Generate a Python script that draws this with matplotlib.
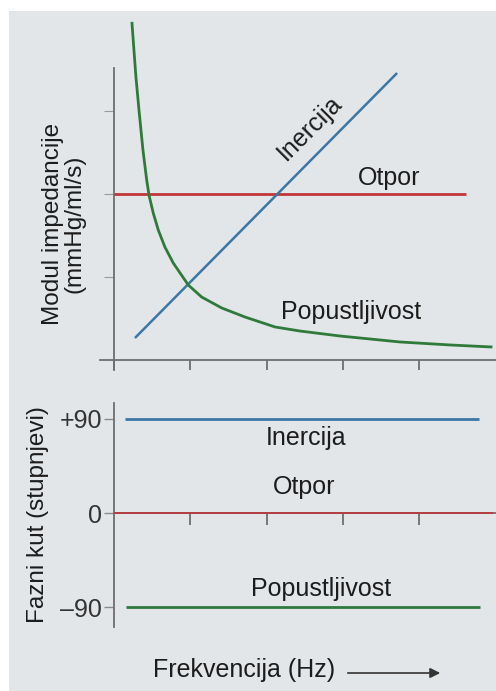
import matplotlib
matplotlib.use("Agg")
import matplotlib.pyplot as plt
from matplotlib.patches import Rectangle, FancyArrowPatch

# Top panel: impedance modulus vs frequency
freq_ticks = [0, 1, 2, 3, 4]
mod_ticks = [1, 2, 3]

otpor_x = [0, 4.61]
otpor_y = [2, 2]

inercija_x = [0.275, 3.71]
inercija_y = [0.265, 3.46]

popust_x = [0.236, 0.262, 0.288, 0.328, 0.380, 0.429, 0.459, 0.515, 0.581, 0.668,
            0.777, 0.974, 1.149, 1.412, 1.717, 2.110, 2.438, 2.962, 3.748, 4.404, 4.941]
popust_y = [4.060, 3.735, 3.410, 3.012, 2.530, 2.169, 1.988, 1.771, 1.566, 1.361,
            1.169, 0.904, 0.759, 0.627, 0.518, 0.398, 0.349, 0.289, 0.217, 0.181, 0.157]

# Bottom panel: phase angle
phase_ticks = [90, 0, -90]
phase_labels = ["+90", "0", "\u201390"]
phase_xticks = [1, 2, 3, 4]
faza_inercija_x = [0.144, 4.78]
faza_inercija_y = [90, 90]
faza_otpor_x = [0, 4.97]
faza_otpor_y = [0, 0]
faza_popust_x = [0.157, 4.80]
faza_popust_y = [-90, -90]

RED = "#c2353a"
BLUE = "#3b77a5"
GREEN = "#2f7a3b"
AXC = "#6e6e6e"
BG = "#e3e6e9"
TXT = "#1c1c1c"

plt.rcParams['font.family'] = ['Liberation Sans', 'DejaVu Sans']

fig = plt.figure(figsize=(4.96, 6.91), dpi=100, facecolor="white")
fig.patches.append(Rectangle((9 / 496, 0), 1, 1 - 11 / 691, transform=fig.transFigure,
                             facecolor=BG, edgecolor="none", zorder=-10))

# ---- top axes
ax1 = fig.add_axes([100 / 496, 1 - 372 / 691, 396 / 496, 362 / 691])
ax1.patch.set_visible(False)
ax1.set_xlim(-0.183, 5.006)
ax1.set_ylim(-0.145, 4.22)
for s in ["top", "right"]:
    ax1.spines[s].set_visible(False)
ax1.spines["left"].set_position(("data", 0))
ax1.spines["bottom"].set_position(("data", 0))
ax1.spines["left"].set_bounds(-0.12, 3.52)
ax1.spines["bottom"].set_bounds(-0.18, 5.0)
for s in ["left", "bottom"]:
    ax1.spines[s].set_color(AXC)
    ax1.spines[s].set_linewidth(1.3)
ax1.set_xticks(freq_ticks)
ax1.set_yticks(mod_ticks)
ax1.tick_params(axis="x", direction="out", length=7.5, width=1.3, color=AXC, labelbottom=False)
ax1.tick_params(axis="y", direction="out", length=7.5, width=0.8, color="#9a9a9a", labelleft=False)

ax1.plot(otpor_x, otpor_y, color=RED, lw=2.0, solid_capstyle="butt", zorder=3)
ax1.plot(inercija_x, inercija_y, color=BLUE, lw=1.8, solid_capstyle="butt", zorder=3)
ax1.plot(popust_x, popust_y, color=GREEN, lw=2.0, solid_joinstyle="round", zorder=3)

ax1.text(2.57, 2.80, "Inercija", rotation=45, rotation_mode="anchor",
         ha="center", va="center", fontsize=18, color=TXT)
ax1.text(3.60, 2.19, "Otpor", ha="center", va="center", fontsize=18, color=TXT)
ax1.text(3.11, 0.58, "Popustljivost", ha="center", va="center", fontsize=18, color=TXT)

fig.text(64 / 496, 1 - 224 / 691, "Modul impedancije\n(mmHg/ml/s)", rotation=90,
         ha="center", va="center", fontsize=17.5, linespacing=0.95, color=TXT)

# ---- bottom axes
ax2 = fig.add_axes([100 / 496, 1 - 635 / 691, 396 / 496, 240 / 691])
ax2.patch.set_visible(False)
ax2.set_xlim(-0.183, 5.006)
ax2.set_ylim(-116.2, 112.4)
for s in ["top", "right"]:
    ax2.spines[s].set_visible(False)
ax2.spines["left"].set_position(("data", 0))
ax2.spines["bottom"].set_position(("data", 0))
ax2.spines["left"].set_bounds(-108.6, 104.8)
ax2.spines["bottom"].set_bounds(0, 5.0)
for s in ["left", "bottom"]:
    ax2.spines[s].set_color(AXC)
    ax2.spines[s].set_linewidth(1.3)
ax2.set_xticks(phase_xticks)
ax2.set_yticks(phase_ticks)
ax2.set_yticklabels(phase_labels)
ax2.tick_params(axis="x", direction="out", length=8.5, width=1.3, color=AXC, labelbottom=False)
ax2.tick_params(axis="y", direction="out", length=7.5, width=1.0, color="#8a8a8a",
                labelsize=18, labelcolor="#333333", pad=1)

ax2.plot(faza_inercija_x, faza_inercija_y, color=BLUE, lw=2.0, solid_capstyle="butt", zorder=3)
ax2.plot(faza_otpor_x, faza_otpor_y, color=RED, lw=1.4, alpha=0.85, solid_capstyle="butt", zorder=3)
ax2.plot(faza_popust_x, faza_popust_y, color=GREEN, lw=2.0, solid_capstyle="butt", zorder=3)

ax2.text(2.52, 71.4, "Inercija", ha="center", va="center", fontsize=18, color=TXT)
ax2.text(2.49, 24.8, "Otpor", ha="center", va="center", fontsize=18, color=TXT)
ax2.text(2.71, -72.4, "Popustljivost", ha="center", va="center", fontsize=18, color=TXT)

fig.text(38 / 496, 1 - 515 / 691, "Fazni kut (stupnjevi)", rotation=90,
         ha="center", va="center", fontsize=17.5, color=TXT)

fig.text(244 / 496, 1 - 670 / 691, "Frekvencija (Hz)", ha="center", va="center",
         fontsize=18, color=TXT)
fig.add_artist(FancyArrowPatch(
    (345 / 496, 1 - 673 / 691), (443 / 496, 1 - 673 / 691), transform=fig.transFigure,
    arrowstyle="-|>,head_length=6,head_width=3", color="#333333", lw=1.2))

fig.savefig("out.png", dpi=100, facecolor="white")
